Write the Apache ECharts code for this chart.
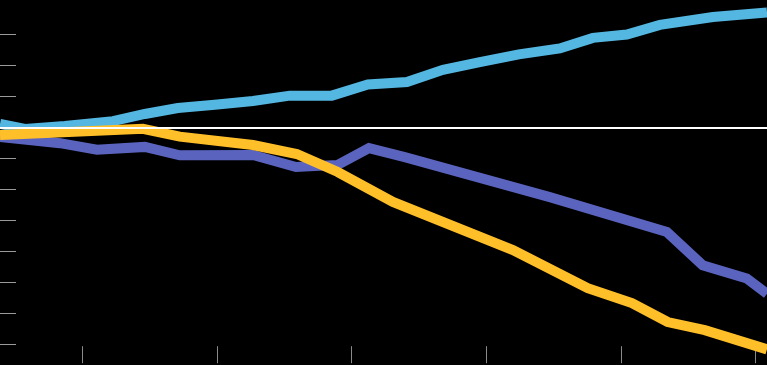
<!DOCTYPE html>
<html>
<head>
<meta charset="utf-8">
<script src="https://cdn.jsdelivr.net/npm/echarts@6/dist/echarts.min.js"></script>
<style>
html,body{margin:0;padding:0;background:#000;}
#chart{width:767px;height:365px;}
</style>
</head>
<body>
<div id="chart"></div>
<script>
// Data (x = decimal year, y = value)
const blueYears  = [1996.93,1997.86,1999.34,2001.13,2002.31,2003.54,2004.91,2006.33,2007.70,2009.26,2010.60,2012.05,2013.39,2014.76,2016.21,2017.73,2018.96,2020.22,2021.45,2023.42,2025.43];
const blueValues = [0.11,-0.05,0.04,0.20,0.43,0.62,0.73,0.85,1.02,1.02,1.38,1.46,1.85,2.10,2.35,2.54,2.88,2.99,3.30,3.55,3.70];

const purpleYears  = [1996.93,1999.16,2000.53,2002.31,2003.61,2006.33,2007.93,2009.48,2010.64,2011.97,2017.36,2021.71,2023.04,2024.68,2025.43];
const purpleValues = [-0.31,-0.51,-0.72,-0.63,-0.90,-0.89,-1.28,-1.21,-0.67,-0.96,-2.25,-3.37,-4.44,-4.87,-5.36];

const yellowYears  = [1996.93,2002.24,2003.61,2006.33,2007.96,2009.48,2011.53,2015.99,2018.77,2020.41,2021.74,2023.12,2025.43];
const yellowValues = [-0.25,-0.05,-0.30,-0.57,-0.86,-1.44,-2.40,-3.95,-5.18,-5.66,-6.27,-6.53,-7.15];

const xTicks = [2000,2005,2010,2015,2020,2025];
const yTicks = [-7,-6,-5,-4,-3,-2,-1,0,1,2,3];

function pairs(xs, ys){ return xs.map((x,i)=>[x, ys[i]]); }

const chart = echarts.init(document.getElementById('chart'), null, {renderer:'canvas'});
chart.setOption({
  backgroundColor:'#000',
  animation:false,
  grid:{left:0,right:0,top:0,bottom:20.3,containLabel:false},
  xAxis:{
    type:'value', min:1996.93, max:2025.43, offset:1.5,
    axisLine:{show:false, onZero:false},
    splitLine:{show:false},
    axisLabel:{show:false},
    axisTick:{show:true, length:17, customValues:xTicks, lineStyle:{color:'#8a8a8a',width:1}}
  },
  yAxis:{
    type:'value', min:-7, max:4.1,
    axisLine:{show:false, onZero:false},
    splitLine:{show:false},
    axisLabel:{show:false},
    axisTick:{show:true, inside:true, length:16, customValues:yTicks, lineStyle:{color:'#9a9a9a',width:1}}
  },
  series:[
    {type:'line', data:pairs(blueYears,blueValues), showSymbol:false, clip:false,
     lineStyle:{color:'#54B7E2',width:10,join:'miter'},
     markLine:{silent:true, symbol:'none', label:{show:false},
       lineStyle:{color:'#ffffff',width:2,type:'solid'}, data:[{yAxis:0}]}},
    {type:'line', data:pairs(purpleYears,purpleValues), showSymbol:false, clip:false,
     lineStyle:{color:'#5A64BE',width:10,join:'miter'}},
    {type:'line', data:pairs(yellowYears,yellowValues), showSymbol:false, clip:false,
     lineStyle:{color:'#FFBF28',width:10,join:'miter'}}
  ]
});
</script>
</body>
</html>
